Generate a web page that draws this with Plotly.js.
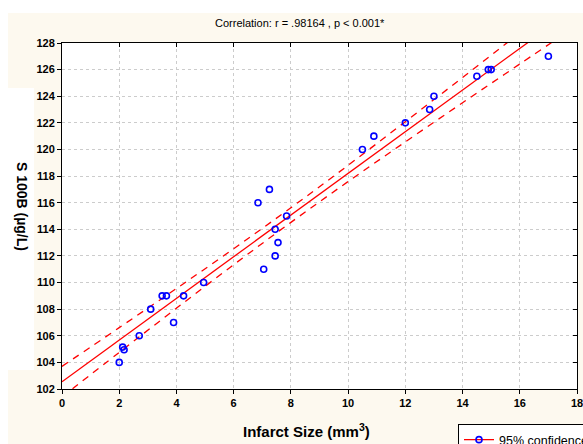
<!DOCTYPE html>
<html>
<head>
<meta charset="utf-8">
<script src="https://cdn.plot.ly/plotly-3.0.1.min.js"></script>
<style>html,body{margin:0;padding:0;background:#fff;}#chart{width:583px;height:444px;}</style>
</head>
<body>
<div id="chart"></div>
<script>
// Observed data (Infarct size mm^3 vs S100B µg/L)
const infarctSize = [2.0, 2.12, 2.17, 2.7, 3.1, 3.5, 3.65, 3.9, 4.25, 4.95, 6.85, 7.05, 7.25, 7.45, 7.45, 7.55, 7.85, 10.5, 10.9, 12.0, 12.85, 13.0, 14.5, 14.9, 15.0, 17.0];
const s100b      = [104, 105.15, 104.95, 106, 108, 109, 109, 107, 109, 110, 116, 111, 117, 112, 114, 113, 115, 120, 121, 122, 123, 124, 125.5, 126, 126, 127];

// Regression line
const fitX = [0, 18];
const fitY = [102.55, 130.72];

// 95% confidence band
const bandX     = [0, 2, 4, 6, 8, 10, 12, 14, 16, 18];
const bandUpper = [103.70, 106.61, 109.55, 112.54, 115.62, 118.81, 122.09, 125.41, 128.76, 132.12];
const bandLower = [101.40, 104.75, 108.07, 111.34, 114.52, 117.59, 120.57, 123.51, 126.42, 129.32];

const xTicks = [0, 2, 4, 6, 8, 10, 12, 14, 16, 18];
const yTicks = [102, 104, 106, 108, 110, 112, 114, 116, 118, 120, 122, 124, 126, 128];

const titleText = 'Correlation: r = .98164 , p < 0.001*';
const xTitle = 'Infarct Size (mm<sup>3</sup>)';
const yTitle = 'S 100B (µg/L)';
const legendText = '95% confidence';

const RED = '#ff0000', BLUE = '#0000ff';
const FONT = 'Liberation Sans, Arial, sans-serif';

const traces = [
  {x: fitX, y: fitY, mode: 'lines', line: {color: RED, width: 1.3}, showlegend: false, hoverinfo: 'skip'},
  {x: bandX, y: bandUpper, mode: 'lines', line: {color: RED, width: 1.3, dash: '7px,6px', shape: 'spline'}, showlegend: false, hoverinfo: 'skip'},
  {x: bandX, y: bandLower, mode: 'lines', line: {color: RED, width: 1.3, dash: '7px,6px', shape: 'spline'}, showlegend: false, hoverinfo: 'skip'},
  {x: infarctSize, y: s100b, mode: 'markers', marker: {symbol: 'circle-open', color: BLUE, size: 6, line: {width: 1.6, color: BLUE}}, showlegend: false},
  {x: [null], y: [null], mode: 'lines+markers', name: legendText,
   line: {color: RED, width: 1.3}, marker: {symbol: 'circle-open', color: BLUE, size: 6, line: {width: 1.6, color: BLUE}}, showlegend: true},
  {x: [null], y: [null], xaxis: 'x2', yaxis: 'y2', mode: 'markers', showlegend: false, hoverinfo: 'skip'}
];

// pixel helpers for paper coordinates
const L = 62, R = 577, T = 43, B = 389;
const px = p => (p - L) / (R - L);
const py = p => (B - p) / (B - T);

const axisCommon = {
  showline: true, linecolor: '#000', linewidth: 1,
  showgrid: true, gridcolor: '#cccccc', griddash: 'dot', gridwidth: 1,
  zeroline: false, ticks: 'outside', ticklen: 4, tickcolor: '#000',
  ticklabeloverflow: 'allow',
  tickfont: {family: FONT, size: 11, color: '#000', weight: 'bold'}
};

const layout = {
  width: 583, height: 444,
  margin: {l: L, r: 583 - R, t: T, b: 444 - B, autoexpand: false},
  paper_bgcolor: '#fdf9ef',
  plot_bgcolor: '#ffffff',
  showlegend: true,
  xaxis: Object.assign({}, axisCommon, {range: [0, 18], tickvals: xTicks, ticktext: xTicks.map(String), mirror: true}),
  yaxis: Object.assign({}, axisCommon, {range: [102, 128], tickvals: yTicks, ticktext: yTicks.map(String), mirror: true}),
  xaxis2: {overlaying: 'x', anchor: 'y', side: 'top', range: [0, 18], tickvals: xTicks, ticks: 'inside', ticklen: 4, tickcolor: '#000',
           showticklabels: false, showgrid: false, zeroline: false, showline: false},
  yaxis2: {overlaying: 'y', anchor: 'x', side: 'right', range: [102, 128], tickvals: yTicks, ticks: 'inside', ticklen: 4, tickcolor: '#000',
           showticklabels: false, showgrid: false, zeroline: false, showline: false},
  legend: {x: px(458), y: py(424), xanchor: 'left', yanchor: 'top', bgcolor: '#ffffff', bordercolor: '#000', borderwidth: 1,
           font: {family: FONT, size: 12.5, color: '#000'}, itemwidth: 30, tracegroupgap: 0},
  shapes: [
    {type: 'rect', xref: 'paper', yref: 'paper', x0: px(-5), x1: px(590), y0: py(0), y1: py(13), fillcolor: '#ffffff', line: {width: 0}},
    {type: 'rect', xref: 'paper', yref: 'paper', x0: px(-5), x1: px(8), y0: py(0), y1: py(450), fillcolor: '#ffffff', line: {width: 0}},
    {type: 'rect', xref: 'paper', yref: 'paper', x0: px(8), x1: px(34), y0: py(88), y1: py(370), fillcolor: '#ffffff', line: {width: 0}}
  ],
  annotations: [
    {text: titleText, xref: 'paper', yref: 'paper', x: px(300), y: py(23), showarrow: false, xanchor: 'center', yanchor: 'middle',
     font: {family: FONT, size: 11, color: '#000'}},
    {text: xTitle, xref: 'paper', yref: 'paper', x: px(306), y: py(430), showarrow: false, xanchor: 'center', yanchor: 'middle',
     font: {family: FONT, size: 15, color: '#000', weight: 'bold'}},
    {text: yTitle, xref: 'paper', yref: 'paper', x: px(22), y: py(206), showarrow: false, textangle: 90, xanchor: 'center', yanchor: 'middle',
     font: {family: FONT, size: 14, color: '#000', weight: 'bold'}}
  ]
};

Plotly.newPlot('chart', traces, layout, {staticPlot: true, displayModeBar: false});
</script>
</body>
</html>
